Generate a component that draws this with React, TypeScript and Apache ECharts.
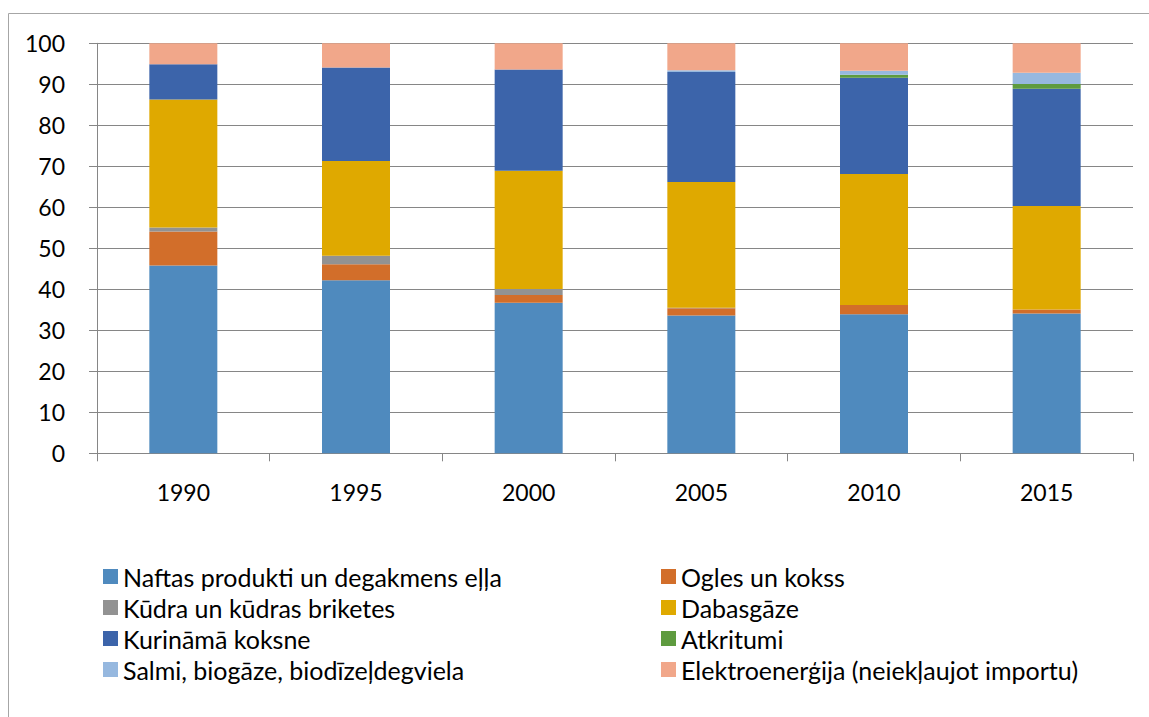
import React, { useEffect, useRef } from "react";
import * as echarts from "echarts";

const years = ["1990", "1995", "2000", "2005", "2010", "2015"];
const naftas = [45.8, 42.2, 36.7, 33.6, 33.9, 34.1];
const ogles = [8.3, 3.9, 1.9, 1.8, 2.3, 1.0];
const kudra = [1.0, 2.1, 1.5, 0.1, 0, 0];
const dabasgaze = [31.2, 23.1, 28.8, 30.7, 31.9, 25.2];
const koksne = [8.6, 22.8, 24.7, 26.8, 23.5, 28.6];
const atkritumi = [0, 0, 0, 0, 0.7, 1.2];
const salmi = [0, 0, 0, 0.4, 1.0, 2.7];
const elektro = [5.1, 5.9, 6.4, 6.6, 6.7, 7.2];

const seriesNames = [
  "Naftas produkti un degakmens eļļa",
  "Ogles un kokss",
  "Kūdra un kūdras briketes",
  "Dabasgāze",
  "Kurināmā koksne",
  "Atkritumi",
  "Salmi, biogāze, biodīzeļdegviela",
  "Elektroenerģija (neiekļaujot importu)",
];
const seriesData = [naftas, ogles, kudra, dabasgaze, koksne, atkritumi, salmi, elektro];
const colors = ["#4F8ABE", "#D26E2A", "#929292", "#DFA900", "#3C64AA", "#5E9B3F", "#96B8DF", "#F1A78A"];

const FONT = "Lato";

export default function App() {
  const ref = useRef<HTMLDivElement>(null);
  useEffect(() => {
    const chart = echarts.init(ref.current!, undefined, { renderer: "svg" });
    const legendBase = {
      orient: "vertical" as const,
      top: 564,
      padding: 0,
      itemWidth: 15,
      itemHeight: 15,
      itemGap: 6,
      icon: "rect",
      textStyle: { fontFamily: FONT, fontSize: 25, lineHeight: 22, color: "#000", padding: [0, 0, 0, 0] },
    };
    chart.setOption({
      animation: false,
      color: colors,
      textStyle: { fontFamily: FONT },
      grid: { left: 97, top: 43.3, width: 1036, height: 410 },
      legend: [
        { ...legendBase, left: 103, data: [seriesNames[0], seriesNames[2], seriesNames[4], seriesNames[6]] },
        { ...legendBase, left: 661, data: [seriesNames[1], seriesNames[3], seriesNames[5], seriesNames[7]] },
      ],
      xAxis: {
        type: "category",
        data: years,
        boundaryGap: true,
        axisLine: { lineStyle: { color: "#868686", width: 1 } },
        axisTick: { show: true, length: 8, alignWithLabel: false, lineStyle: { color: "#868686" } },
        axisLabel: { fontFamily: FONT, fontSize: 23, color: "#000", margin: 27 },
      },
      yAxis: {
        type: "value",
        min: 0,
        max: 100,
        interval: 10,
        axisLine: { show: true, lineStyle: { color: "#868686", width: 1 } },
        axisTick: { show: true, length: 8, lineStyle: { color: "#868686" } },
        axisLabel: { fontFamily: FONT, fontSize: 23, color: "#000", margin: 32 },
        splitLine: { show: true, lineStyle: { color: "#868686", width: 1 } },
      },
      graphic: [
        { type: "line", shape: { x1: 8.5, y1: 13.5, x2: 1149, y2: 13.5 }, style: { stroke: "#A6A6A6", lineWidth: 1 } },
        { type: "line", shape: { x1: 8.5, y1: 13.5, x2: 8.5, y2: 717 }, style: { stroke: "#A6A6A6", lineWidth: 1 } },
      ],
      series: seriesNames.map((name, i) => ({
        name,
        type: "bar",
        stack: "total",
        barWidth: 68,
        data: seriesData[i],
        itemStyle: { color: colors[i] },
      })),
    });
    return () => chart.dispose();
  }, []);
  return (
    <div
      ref={ref}
      style={{ position: "absolute", left: 0, top: 0, width: 1149, height: 717, background: "#fff" }}
    />
  );
}
